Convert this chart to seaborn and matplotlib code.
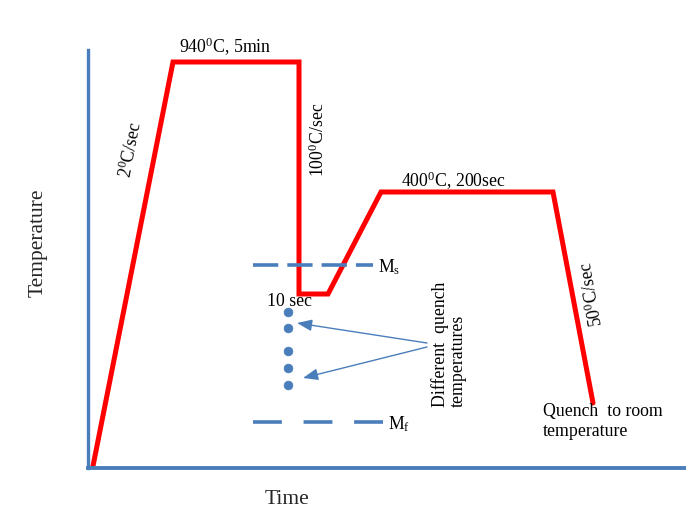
import matplotlib
matplotlib.use("Agg")
import matplotlib.pyplot as plt
import seaborn as sns
import pandas as pd

# Schematic heat-treatment cycle (arbitrary time / temperature units)
time = [5, 85, 211, 211, 240, 293, 465, 505]
temp = [2, 406, 406, 174, 174, 276, 276, 65]

# Different quench temperatures (dots)
quench_time = [200, 200, 200, 200, 200]
quench_temp = [156, 140, 117, 100, 83]

# Martensite start / finish lines
ms_time = [165, 285]
ms_temp = [203, 203]
mf_time = [165, 295]
mf_temp = [46, 46]

sns.set_style("white")
plt.rcParams["font.family"] = ["Liberation Serif", "DejaVu Serif"]
plt.rcParams["mathtext.fontset"] = "custom"
plt.rcParams["mathtext.rm"] = "Liberation Serif"
plt.rcParams["mathtext.it"] = "Liberation Serif:italic"

BLUE = "#4a7ebb"
RED = "#ff0000"
FS = 12.8
LFS = 15.5

fig = plt.figure(figsize=(6.86, 5.08), dpi=100)
ax = fig.add_axes([88 / 686, 40 / 508, 598 / 686, 418 / 508])

cycle = pd.DataFrame({"time": time, "temp": temp})
sns.lineplot(data=cycle, x="time", y="temp", sort=False, estimator=None,
             color=RED, linewidth=3.6, ax=ax, solid_joinstyle="miter", zorder=2)

sns.lineplot(x=ms_time, y=ms_temp, color=BLUE, linewidth=2.6, ax=ax,
             linestyle=(0, (7, 2.5)), zorder=3)
sns.lineplot(x=mf_time, y=mf_temp, color=BLUE, linewidth=2.6, ax=ax,
             linestyle=(0, (8, 6)), zorder=3)
sns.scatterplot(x=quench_time, y=quench_temp, color=BLUE, s=40,
                edgecolor=BLUE, ax=ax, zorder=3)

# arrows
for tx, ty, hx, hy in [(339, 125, 209, 145), (339, 121, 215, 90)]:
    ax.annotate("", xy=(hx, hy), xytext=(tx, ty),
                arrowprops=dict(arrowstyle="-|>,head_length=0.9,head_width=0.35",
                                color=BLUE, lw=1.0, shrinkA=0, shrinkB=0))

ax.set_xlim(0, 598)
ax.set_ylim(0, 418)
ax.set_xticks([])
ax.set_yticks([])
ax.set_xlabel("")
ax.set_ylabel("")
for s in ["top", "right"]:
    ax.spines[s].set_visible(False)
ax.spines["left"].set_color(BLUE)
ax.spines["left"].set_linewidth(2.4)
ax.spines["bottom"].set_color(BLUE)
ax.spines["bottom"].set_linewidth(2.8)

kw = dict(fontsize=FS, color="black", clip_on=False)
ax.text(137, 421, r"940$^{\mathrm{0}}$C, 5min", ha="center", va="center", **kw)
ax.text(43, 318, r"2$^{\mathrm{0}}$C/sec", ha="center", va="center", rotation=79, **kw)
ax.text(230, 328, r"100$^{\mathrm{0}}$C/sec", ha="center", va="center", rotation=90, **kw)
ax.text(365, 287, r"400$^{\mathrm{0}}$C, 200sec", ha="center", va="center", **kw)
ax.text(504, 174, r"50$^{\mathrm{0}}$C/sec", ha="center", va="center", rotation=100, **kw)
ax.text(201, 166, "10 sec", ha="center", va="center", **kw)
ax.text(290, 201, r"M$_{\mathrm{s}}$", ha="left", va="center", **kw)
ax.text(300, 44, r"M$_{\mathrm{f}}$", ha="left", va="center", **kw)
ax.text(361, 61, "Different  quench\ntemperatures", ha="center", va="bottom",
        rotation=90, multialignment="left", linespacing=1.0, **kw)
ax.text(455, 65, "Quench  to room\ntemperature", ha="left", va="top",
        linespacing=1.2, **kw)

fig.text(38 / 686, 1 - 243 / 508, "Temperature", rotation=90, ha="center",
         va="center", fontsize=LFS)
fig.text(287 / 686, 1 - 500 / 508, "Time", ha="center", va="center", fontsize=LFS)

fig.savefig("out.png", dpi=100, facecolor="white")
